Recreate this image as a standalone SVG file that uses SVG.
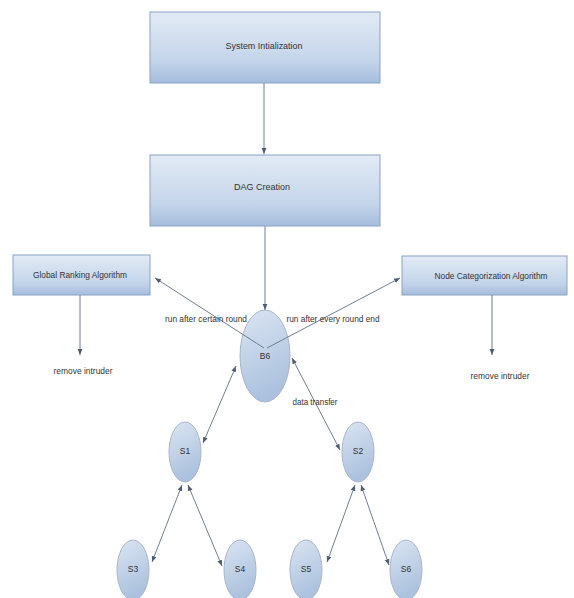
<svg xmlns="http://www.w3.org/2000/svg" width="574" height="598" viewBox="0 0 574 598">
<style>
.box{fill:url(#gb);stroke:#8aa3c4;stroke-width:1}
.nd{fill:url(#ge);stroke:#a9b6c8;stroke-width:1}
.t{font-family:"Liberation Sans",Arial,sans-serif;font-size:8.5px;fill:#333;text-anchor:middle;dominant-baseline:middle}
.c{stroke:#6f7e92;stroke-width:1;fill:none;marker-end:url(#ah)}
.b{marker-start:url(#ahs)}
</style>
<defs>
<linearGradient id="gb" x1="0" y1="0" x2="0" y2="1">
<stop offset="0" stop-color="#e3ebf5"/><stop offset="0.7" stop-color="#c3d4ea"/><stop offset="1" stop-color="#a4bcdc"/>
</linearGradient>
<linearGradient id="ge" x1="0" y1="0" x2="0.3" y2="1">
<stop offset="0" stop-color="#dbe5f2"/><stop offset="1" stop-color="#abc1de"/>
</linearGradient>
<marker id="ah" viewBox="0 0 10 10" refX="10" refY="5" markerWidth="6" markerHeight="6" orient="auto">
<path d="M0,1 L10,5 L0,9 z" fill="#4f5d70"/>
</marker>
<marker id="ahs" viewBox="0 0 10 10" refX="0" refY="5" markerWidth="6" markerHeight="6" orient="auto">
<path d="M10,1 L0,5 L10,9 z" fill="#4f5d70"/>
</marker>
</defs>
<rect width="574" height="598" fill="#fff"/>
<g id="sysinit"><rect class="box" x="150" y="12" width="230" height="71"/><text class="t" x="264" y="47" textLength="77" lengthAdjust="spacingAndGlyphs">System Intialization</text></g>
<g id="dag"><rect class="box" x="150" y="155" width="230" height="71"/><text class="t" x="262" y="188" textLength="56" lengthAdjust="spacingAndGlyphs">DAG Creation</text></g>
<g id="gra"><rect class="box" x="13" y="255" width="137" height="40"/><text class="t" x="80" y="276" textLength="94" lengthAdjust="spacingAndGlyphs">Global Ranking Algorithm</text></g>
<g id="nca"><rect class="box" x="402" y="256" width="165" height="39"/><text class="t" x="491" y="277" textLength="113" lengthAdjust="spacingAndGlyphs">Node Categorization Algorithm</text></g>
<g id="ri1"><text class="t" x="83" y="372" textLength="59" lengthAdjust="spacingAndGlyphs">remove intruder</text></g>
<g id="ri2"><text class="t" x="500" y="377" textLength="59" lengthAdjust="spacingAndGlyphs">remove intruder</text></g>
<g id="B6"><ellipse class="nd" cx="265" cy="356" rx="25" ry="46"/><text class="t" x="265" y="357">B6</text></g>
<g id="S1"><ellipse class="nd" cx="185" cy="452" rx="16" ry="30"/><text class="t" x="185" y="452">S1</text></g>
<g id="S2"><ellipse class="nd" cx="358" cy="452" rx="16" ry="30"/><text class="t" x="358" y="452">S2</text></g>
<g id="S3"><ellipse class="nd" cx="133" cy="570" rx="16" ry="30"/><text class="t" x="133" y="570">S3</text></g>
<g id="S4"><ellipse class="nd" cx="240" cy="570" rx="16" ry="30"/><text class="t" x="240" y="570">S4</text></g>
<g id="S5"><ellipse class="nd" cx="306" cy="570" rx="16" ry="30"/><text class="t" x="306" y="570">S5</text></g>
<g id="S6"><ellipse class="nd" cx="406" cy="570" rx="16" ry="30"/><text class="t" x="406" y="570">S6</text></g>
<g id="connectors">
<line class="c" x1="264" y1="83" x2="264" y2="154"/>
<line class="c" x1="265" y1="226" x2="265" y2="310"/>
<line class="c" x1="264" y1="348" x2="155" y2="278"/>
<line class="c" x1="267" y1="348" x2="400" y2="278"/>
<line class="c" x1="80" y1="295" x2="80" y2="355"/>
<line class="c" x1="492" y1="295" x2="492" y2="355"/>
<line class="c b" x1="236" y1="366" x2="203" y2="443"/>
<line class="c b" x1="292" y1="358" x2="340" y2="450"/>
<line class="c b" x1="182" y1="485" x2="152" y2="562"/>
<line class="c b" x1="188" y1="485" x2="222" y2="566"/>
<line class="c b" x1="355" y1="485" x2="327" y2="562"/>
<line class="c b" x1="361" y1="485" x2="389" y2="565"/>
<text class="t" x="206" y="320" textLength="82" lengthAdjust="spacingAndGlyphs">run after certain round</text>
<text class="t" x="333" y="320" textLength="93" lengthAdjust="spacingAndGlyphs">run after every round end</text>
<text class="t" x="315" y="403" textLength="45" lengthAdjust="spacingAndGlyphs">data transfer</text>
</g>
</svg>
